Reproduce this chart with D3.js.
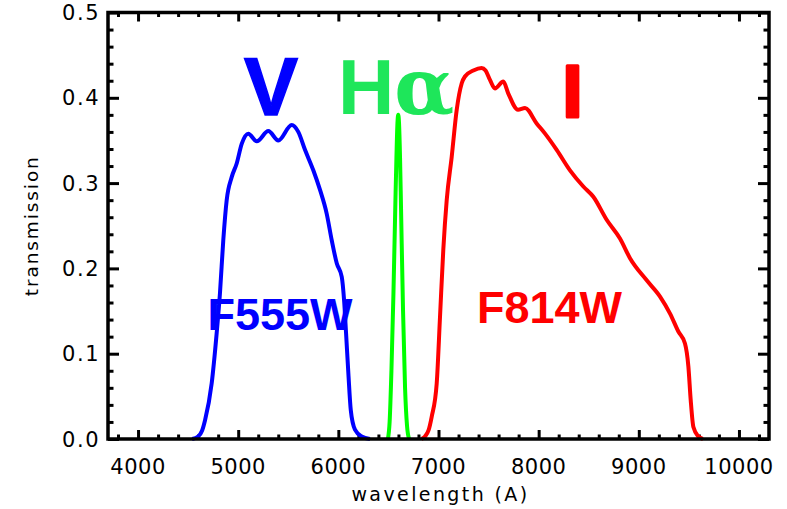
<!DOCTYPE html>
<html>
<head>
<meta charset="utf-8">
<script src="https://cdn.jsdelivr.net/npm/d3@7"></script>
<style>
	body { margin: 0; background: #fff; }
	svg { display: block; }
</style>
</head>
<body>
<div id="chart"></div>
<script>
// filter transmission curves
const f555wWave = [4540, 4600, 4640, 4669, 4735, 4785, 4818, 4851, 4885, 4935, 4985, 5035, 5101, 5185, 5301, 5401, 5534, 5600, 5667, 5750, 5817, 5884, 5934, 5984, 6034, 6057, 6077, 6100, 6124, 6166, 6233, 6316];
const f555wTrans = [0, 0.003, 0.010, 0.022, 0.065, 0.124, 0.171, 0.233, 0.280, 0.307, 0.323, 0.346, 0.358, 0.349, 0.361, 0.350, 0.368, 0.360, 0.339, 0.315, 0.292, 0.264, 0.233, 0.206, 0.190, 0.163, 0.124, 0.077, 0.034, 0.011, 0.003, 0];

const f656nWave = [6495, 6512, 6530, 6550, 6570, 6580, 6590, 6598, 6606, 6616, 6626, 6646, 6666, 6686, 6706];
const f656nTrans = [0, 0.02, 0.08, 0.17, 0.28, 0.33, 0.37, 0.38, 0.37, 0.33, 0.27, 0.15, 0.06, 0.015, 0];

const f814wWave = [6830, 6865, 6900, 6932, 6982, 7015, 7048, 7082, 7132, 7182, 7232, 7264, 7348, 7430, 7470, 7514, 7564, 7647, 7697, 7794, 7864, 7980, 8064, 8180, 8313, 8446, 8546, 8679, 8812, 8912, 9079, 9212, 9312, 9395, 9461, 9495, 9518, 9545, 9595, 9640];
const f814wTrans = [0, 0.003, 0.010, 0.026, 0.065, 0.143, 0.222, 0.280, 0.331, 0.386, 0.417, 0.425, 0.432, 0.435, 0.432, 0.421, 0.411, 0.419, 0.405, 0.386, 0.388, 0.370, 0.358, 0.339, 0.315, 0.296, 0.284, 0.257, 0.235, 0.212, 0.186, 0.167, 0.147, 0.126, 0.112, 0.085, 0.046, 0.014, 0.003, 0];

const xTicks = [4000, 5000, 6000, 7000, 8000, 9000, 10000];
const yTicks = [0, 0.1, 0.2, 0.3, 0.4, 0.5];

const curves = [
	{ wave: f555wWave, trans: f555wTrans, color: '#0000ff' },
	{ wave: f656nWave, trans: f656nTrans, color: '#00ff00' },
	{ wave: f814wWave, trans: f814wTrans, color: '#ff0000' }
];

const width = 787;
const height = 509;
const margin = { top: 12.5, right: 18, bottom: 70, left: 108 };
const innerW = width - margin.left - margin.right;
const innerH = height - margin.top - margin.bottom;

const svg = d3
	.select('#chart')
	.append('svg')
	.attr('width', width)
	.attr('height', height);

const g = svg.append('g').attr('transform', `translate(${margin.left}, ${margin.top})`);

const xScale = d3.scaleLinear().domain([ 3700, 10300 ]).range([ 0, innerW ]);
const yScale = d3.scaleLinear().domain([ 0, 0.5 ]).range([ innerH, 0 ]);

const font = '"DejaVu Sans", sans-serif';
const minorX = d3.range(3800, 10300, 200).filter((d) => d % 1000 !== 0);
const minorY = d3.range(0, 0.5, 0.02).map((d) => +d.toFixed(2)).filter((d) => Math.round(d * 100) % 10 !== 0);

// tick marks, all pointing inwards
const tickAxis = (axis, tr, vals, len) => {
	const a = g.append('g').attr('transform', tr).call(axis.tickValues(vals).tickSize(len).tickFormat(''));
	a.select('.domain').remove();
	a.selectAll('.tick line').attr('stroke', '#000').attr('stroke-width', 3);
	return a;
};

tickAxis(d3.axisBottom(xScale), `translate(0, ${innerH})`, xTicks, -9);
tickAxis(d3.axisBottom(xScale), `translate(0, ${innerH})`, minorX, -4.5);
tickAxis(d3.axisTop(xScale), 'translate(0, 0)', xTicks, -9);
tickAxis(d3.axisTop(xScale), 'translate(0, 0)', minorX, -4.5);
tickAxis(d3.axisLeft(yScale), 'translate(0, 0)', yTicks, -11);
tickAxis(d3.axisLeft(yScale), 'translate(0, 0)', minorY, -5.5);
tickAxis(d3.axisRight(yScale), `translate(${innerW}, 0)`, yTicks, -11);
tickAxis(d3.axisRight(yScale), `translate(${innerW}, 0)`, minorY, -5.5);

// tick labels
g
	.selectAll('.xlab')
	.data(xTicks)
	.enter()
	.append('text')
	.attr('x', (d) => xScale(d))
	.attr('y', innerH + 35)
	.attr('text-anchor', 'middle')
	.style('font-family', font)
	.style('font-size', '21px')
	.style('letter-spacing', '0.5px')
	.text((d) => d);

g
	.selectAll('.ylab')
	.data(yTicks)
	.enter()
	.append('text')
	.attr('x', -8)
	.attr('y', (d) => yScale(d))
	.attr('dy', '0.36em')
	.attr('text-anchor', 'end')
	.style('font-family', font)
	.style('font-size', '21px')
	.style('letter-spacing', '1.5px')
	.text((d) => d3.format('.1f')(d));

// axis titles
svg
	.append('text')
	.attr('transform', `translate(38, ${margin.top + innerH / 2}) rotate(-90)`)
	.attr('text-anchor', 'middle')
	.style('font-family', font)
	.style('font-size', '18.5px')
	.style('letter-spacing', '1.9px')
	.text('transmission');

svg
	.append('text')
	.attr('x', margin.left + innerW / 2 + 2)
	.attr('y', 501)
	.attr('text-anchor', 'middle')
	.style('font-family', font)
	.style('font-size', '19px')
	.style('letter-spacing', '2.4px')
	.text('wavelength (A)');

// transmission curves
const line = d3
	.line()
	.x((d) => xScale(d[0]))
	.y((d) => yScale(d[1]))
	.curve(d3.curveMonotoneX);

curves.forEach((c) => {
	g
		.append('path')
		.datum(c.wave.map((w, i) => [ w, c.trans[i] ]))
		.attr('d', line)
		.attr('fill', 'none')
		.attr('stroke', c.color)
		.attr('stroke-width', 4)
		.attr('stroke-linejoin', 'round');
});

// frame
g
	.append('rect')
	.attr('width', innerW)
	.attr('height', innerH)
	.attr('fill', 'none')
	.attr('stroke', '#000')
	.attr('stroke-width', 3.5);

// big band labels
const bold = '"Liberation Sans", Arial, sans-serif';
const addLabel = (txt, x, y, size, color) => {
	return svg
		.append('text')
		.attr('x', x)
		.attr('y', y)
		.attr('text-anchor', 'middle')
		.style('font-family', bold)
		.style('font-weight', 'bold')
		.style('font-size', `${size}px`)
		.attr('fill', color)
		.text(txt);
};

addLabel('V', 271, 115, 81, '#0000ff').attr('stroke', '#0000ff').attr('stroke-width', 1.5);
addLabel('F555W', 280, 330, 45, '#0000ff');
addLabel('F814W', 549.5, 323, 45, '#ff0000');

const ha = svg
	.append('text')
	.attr('x', 338)
	.attr('y', 114)
	.attr('fill', '#1ee65a')
	.style('font-weight', 'bold')
	.style('font-size', '78px');
ha.append('tspan').style('font-family', bold).text('H');
ha.append('tspan').style('font-family', '"DejaVu Serif", serif').attr('dx', 0).text('α');

svg
	.append('text')
	.attr('x', 572.5)
	.attr('y', 116.5)
	.attr('text-anchor', 'middle')
	.attr('fill', '#ff0000')
	.attr('stroke', '#ff0000')
	.attr('stroke-width', 3)
	.attr('stroke-linejoin', 'round')
	.style('font-family', bold)
	.style('font-weight', 'bold')
	.style('font-size', '74px')
	.text('I');
</script>
</body>
</html>
